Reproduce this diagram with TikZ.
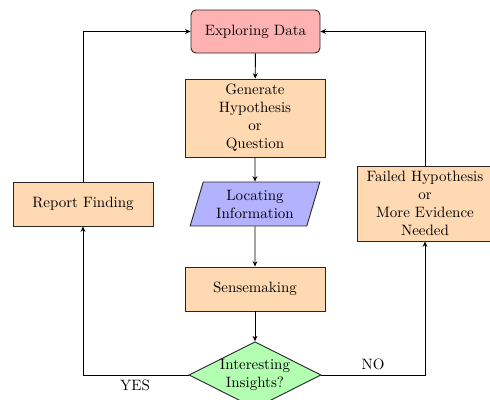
\documentclass[tikz,border=0pt]{standalone}
\usetikzlibrary{shapes.geometric,arrows.meta}
\tikzset{
  base/.style={draw=black!85, semithick, align=center, inner sep=2pt},
  startbox/.style={base, rectangle, rounded corners=3.3pt, fill=red!30, minimum width=86pt, minimum height=28.7pt},
  procbox/.style={base, rectangle, fill=orange!30},
  iobox/.style={base, trapezium, trapezium left angle=73, trapezium right angle=107, trapezium stretches=true, fill=blue!30, minimum width=86.7pt, minimum height=29.3pt},
  decbox/.style={base, diamond, fill=green!30, minimum width=88pt, minimum height=44.4pt, inner sep=0pt},
  conn/.style={semithick, -{Stealth[length=3.6pt,width=3.2pt]}},
  line/.style={semithick}
}
\begin{document}
\begin{tikzpicture}[x=0.6667pt,y=-0.6667pt]
\clip (0,0) rectangle (490,400);
\node[startbox] (explore) at (255.5,31.5) {Exploring Data};
\node[procbox, minimum width=93.3pt, minimum height=52pt] (gen) at (255,118) {Generate\\Hypothesis\\or\\Question};
\node[iobox] (locate) at (255,204) {Locating\\Information};
\node[procbox, minimum width=93.3pt, minimum height=29.3pt] (sense) at (255,289) {Sensemaking};
\node[decbox] (dec) at (255,375) {};
\node[align=center, inner sep=0pt] (dectext) at (255,375) {Interesting\\Insights?};
\node[procbox, minimum width=93.3pt, minimum height=29.3pt] (report) at (83,204) {Report Finding};
\node[procbox, minimum width=90.7pt, minimum height=50pt] (failed) at (425,203.5) {Failed Hypothesis\\or\\More Evidence\\Needed};
\node (yes) at (135,385) {YES};
\node (no) at (373,364) {NO};

\draw[conn] (explore) -- (gen);
\draw[conn] (gen) -- (locate);
\draw[conn] (locate) -- (sense);
\draw[conn] (sense) -- (dec);
\draw[conn] (dec.west) -| (report.south);
\draw[conn] (dec.east) -| (failed.south);
\draw[conn] (report.north) |- (explore.west);
\draw[conn] (failed.north) |- (explore.east);
\end{tikzpicture}
\end{document}
